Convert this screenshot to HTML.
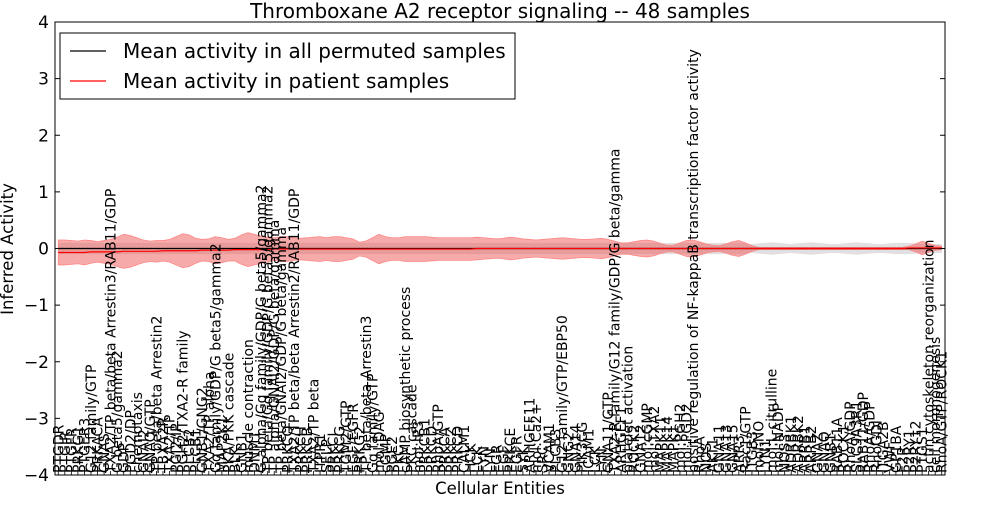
<!DOCTYPE html>
<html><head><meta charset="utf-8"><style>body{margin:0;background:#fff}svg{font-family:"DejaVu Sans","Liberation Sans",sans-serif}</style></head>
<body>
<svg id="chart" width="1000" height="500" viewBox="0 0 1000 500" xmlns="http://www.w3.org/2000/svg"></svg>
<script>
const labels=["PTGDR","PTGIR","PTGFR","PRKG1","PTGER3","G12 family/GTP","PRKACA","GNAS","TXA2/TP beta/beta Arrestin3/RAB11/GDP","G beta5/gamma2","GDP","PGD2/DP","chemotaxis","GNAI2","GNAQ/GTP","TP beta/beta Arrestin2","TBXA2R","TXA2/TP","PGI2/IP","PGH2/TXA2-R family","PLCB2","PLCB1","GNB1/GNG2","TXA2/TP alpha","Gq family/GDP/G beta5/gamma2","MAP2K1","PKA/PKK cascade","BLK","GNB1","muscle contraction","DNM1","G alpha/Gq family/GDP/G beta5/gamma2","TP beta/Gq family/GDP/G beta5/gamma2","TP alpha/GNAI2/GDP/G beta/gamma","TP beta/GNAI2/GDP/G beta/gamma","PRKCQ","TXA2/TP beta/beta Arrestin2/RAB11/GDP","PRKCH","PRKCB","TXA2/TP beta","ITPR1","SELP","PRKCI","PRKCG","TGM2/GTP","EGF/EGFR","PRKG2","TP beta/beta Arrestin3","Gq family/GTP","mol:DAG","cGMP","PGE2","PKC","cAMP biosynthetic process","PKC cascade","mol:IP3","PRKCB1","PRKCD","RhoA/GTP","PRKCA","PRKCZ","PRKCD","CALM1","HCK","LCK","FYN","LYN","FGR","EGF","PRKCE","EGFR","SYK","ARHGEF11","mol:Ca2+","SRC","VCAM1","PLCB3","G12 family/GTP/EBP50","GNG2","GNA14","PIK3CG","ICAM1","LCK","LYN","GNA11/GTP","TXA2-R family/G12 family/GDP/G beta/gamma","ARHGEF1","platelet activation","ROCK2","GNA12","mol:cGMP","mol:TXA2","MAPK11","MAPK14","MAPK1","mol:PGH2","mol:PGD2","positive regulation of NF-kappaB transcription factor activity","RhoA","NOS","AKT1","GNA11","GNA13","GNA15","ARR3","Rac1/GTP","ITGB3","mol:NO","LYN1","mol:L-citrulline","mol:NADP","NOS3","ADRBK1","ADRBK2","ARRB1","ARRB2","GNAZ","GNAQ","GNB1","RAB11A","ROCK1","RhoA/GDP","SLC9A3R1","RAB11/GDP","RhoA/GDP","RhoGDI","ITGA2B","VWF","GP1BA","F2R","P2RY1","P2RY12","PTGS1","actin cytoskeleton reorganization","cell morphogenesis","RhoA/GTP/ROCK1"];
const patMean=[-0.07,-0.07,-0.07,-0.07,-0.07,-0.06,-0.06,-0.06,-0.06,-0.06,-0.05,-0.05,-0.05,-0.05,-0.05,-0.05,-0.04,-0.04,-0.04,-0.04,-0.04,-0.04,-0.03,-0.03,-0.03,-0.03,-0.03,-0.02,-0.02,-0.02,-0.02,-0.02,-0.02,-0.01,-0.01,-0.01,-0.01,-0.01,-0.01,-0.01,-0.01,-0.01,-0.01,-0.01,-0.01,-0.01,-0.01,-0.01,-0.01,-0.01,-0.01,-0.01,-0.01,-0.01,-0.01,-0.01,-0.01,-0.01,-0.01,-0.01,-0.01,-0.01,-0.01,-0.01,0,0,0,0,0,0,0,0,0,0,0,0,0,0,0,0,0,0,0,0,0,0,0,0,0,0,0,0,0,0,0,0,0,0,0,0,0,0,0,0,0,0,0,0,0,0,0,0,0,0,0,0,0,0,0,0,0,0,0,0,0,0,0,0,0,0,0.01,0.01,0.01,0.01,0.01,0.01,0.01,0.01,0.01];
const patStd=[0.22,0.22,0.21,0.2,0.22,0.2,0.18,0.2,0.22,0.26,0.3,0.28,0.24,0.2,0.18,0.19,0.18,0.2,0.25,0.3,0.28,0.22,0.19,0.2,0.24,0.22,0.19,0.2,0.26,0.3,0.27,0.24,0.22,0.2,0.22,0.22,0.2,0.19,0.2,0.21,0.22,0.2,0.22,0.22,0.2,0.18,0.12,0.14,0.2,0.26,0.22,0.2,0.2,0.22,0.22,0.22,0.22,0.21,0.2,0.2,0.2,0.2,0.2,0.2,0.2,0.19,0.18,0.17,0.18,0.2,0.19,0.17,0.16,0.15,0.16,0.17,0.18,0.19,0.18,0.17,0.16,0.16,0.17,0.18,0.16,0.13,0.1,0.1,0.12,0.14,0.15,0.13,0.09,0.06,0.06,0.1,0.14,0.15,0.12,0.08,0.06,0.05,0.08,0.12,0.14,0.1,0.05,0.02,0.02,0.02,0.02,0.02,0.02,0.02,0.02,0.02,0.02,0.02,0.02,0.02,0.02,0.02,0.02,0.02,0.02,0.02,0.02,0.02,0.02,0.02,0.03,0.07,0.12,0.08,0.04,0.03,0.03];
const permMean=[0,0,0,0,0,0,0,0,0,0,0,0,0,0,0,0,0,0,0,0,0,0,0,0,0,0,0,0,0,0,0,0,0,0,0,0,0,0,0,0,0,0,0,0,0,0,0,0,0,0,0,0,0,0,0,0,0,0,0,0,0,0,0,0,0,0,0,0,0,0,0,0,0,0,0,0,0,0,0,0,0,0,0,0,0,0,0,0,0,0,0,0,0,0,0,0,0,0,0,0,0,0,0,0,0,0,0,0,0,0,0,0,0,0,0,0,0,0,0,0,0,0,0,0,0,0,0,0,0,0,0,0,0,0,0,0,0,0,0];
const permStd=[0.1,0.1,0.1,0.1,0.1,0.1,0.1,0.1,0.1,0.1,0.1,0.1,0.1,0.1,0.1,0.1,0.1,0.1,0.1,0.1,0.1,0.1,0.1,0.1,0.1,0.1,0.1,0.1,0.1,0.1,0.1,0.1,0.1,0.1,0.1,0.1,0.1,0.1,0.1,0.1,0.1,0.1,0.1,0.1,0.1,0.1,0.1,0.1,0.1,0.1,0.1,0.1,0.1,0.1,0.1,0.1,0.1,0.1,0.1,0.1,0.1,0.1,0.1,0.1,0.1,0.1,0.1,0.1,0.1,0.1,0.1,0.1,0.1,0.1,0.1,0.1,0.1,0.1,0.1,0.1,0.1,0.1,0.1,0.1,0.1,0.1,0.1,0.1,0.1,0.1,0.1,0.1,0.1,0.1,0.1,0.1,0.1,0.1,0.1,0.1,0.1,0.1,0.1,0.1,0.1,0.09,0.08,0.09,0.1,0.11,0.1,0.09,0.08,0.09,0.1,0.11,0.1,0.09,0.08,0.08,0.09,0.1,0.11,0.1,0.09,0.08,0.08,0.09,0.1,0.1,0.1,0.09,0.08,0.08,0.08,0.08,0.08,0.08,0.08];
const yTicks=[-4,-3,-2,-1,0,1,2,3,4];

const NS="http://www.w3.org/2000/svg",svg=document.getElementById('chart');
const L=55,R=945,T=22,B=475;
const N=Math.min(labels.length,patMean.length,patStd.length,permMean.length,permStd.length);
const xs=i=>L+(i+0.5)*(R-L)/N, ys=v=>T+(4-v)/8*(B-T);
function mk(t,a,p){const e=document.createElementNS(NS,t);for(const k in a)e.setAttribute(k,a[k]);(p||svg).appendChild(e);return e;}
function band(m,s){const up=[],dn=[];for(let i=0;i<N;i++){up.push(xs(i)+','+ys(m[i]+s[i]));dn.push(xs(i)+','+ys(m[i]-s[i]));}return up.concat(dn.reverse()).join(' ');}
function line(m){const p=[];for(let i=0;i<N;i++)p.push(xs(i)+','+ys(m[i]));return p.join(' ');}
const gb=mk('polygon',{points:band(permMean,permStd),fill:'#bbb','fill-opacity':0.45});

const pb=mk('polygon',{points:band(patMean,patStd),fill:'#e55','fill-opacity':0.5,stroke:'#f88','stroke-width':0.8});

const bl=mk('polyline',{points:line(permMean),fill:'none',stroke:'#000','stroke-width':1.2});

const bd=mk('polyline',{points:line(permMean),fill:'none',stroke:'#000','stroke-width':1.2,'stroke-dasharray':'1,3'});

const rl=mk('polyline',{points:line(patMean),fill:'none',stroke:'#f00','stroke-width':1.2});

const fr=mk('rect',{x:L,y:T,width:R-L,height:B-T,fill:'none',stroke:'#000','stroke-width':1});

yTicks.forEach(v=>{const y=ys(v);
 mk('line',{x1:L,x2:L+5,y1:y,y2:y,stroke:'#000'});mk('line',{x1:R,x2:R-5,y1:y,y2:y,stroke:'#000'});
 const t=mk('text',{x:L-6,y:y+6,'text-anchor':'end','font-size':17});t.textContent=(v<0?'\u2212':'')+Math.abs(v);
 });
for(let i=0;i<N;i++){const x=xs(i);
 mk('line',{x1:x,x2:x,y1:B,y2:B-4,stroke:'#000','stroke-width':0.8});
 const t=mk('text',{x:0,y:0,transform:`translate(${x+5},${B-2}) rotate(-90)`,'font-size':14});t.textContent=labels[i];
 }
const ti=mk('text',{x:500,y:18,'text-anchor':'middle','font-size':20});ti.textContent='Thromboxane A2 receptor signaling -- 48 samples';

const xt=mk('text',{x:500,y:494,'text-anchor':'middle','font-size':16.5});xt.textContent='Cellular Entities';

const yt=mk('text',{x:0,y:0,transform:'translate(13,249) rotate(-90)','text-anchor':'middle','font-size':16.5});yt.textContent='Inferred Activity';

const lg=mk('g',{});
mk('rect',{x:60,y:33,width:455,height:66,fill:'#fff',stroke:'#000'},lg);
[['Mean activity in all permuted samples','#000',51],['Mean activity in patient samples','#f00',81]].forEach(([s,c,y])=>{
 const e=mk('g',{},lg);
 mk('line',{x1:70,x2:106,y1:y,y2:y,stroke:c,'stroke-width':1.2},e);
 const t=mk('text',{x:123,y:y+7,'font-size':20},e);t.textContent=s;});
</script>
</body></html>
